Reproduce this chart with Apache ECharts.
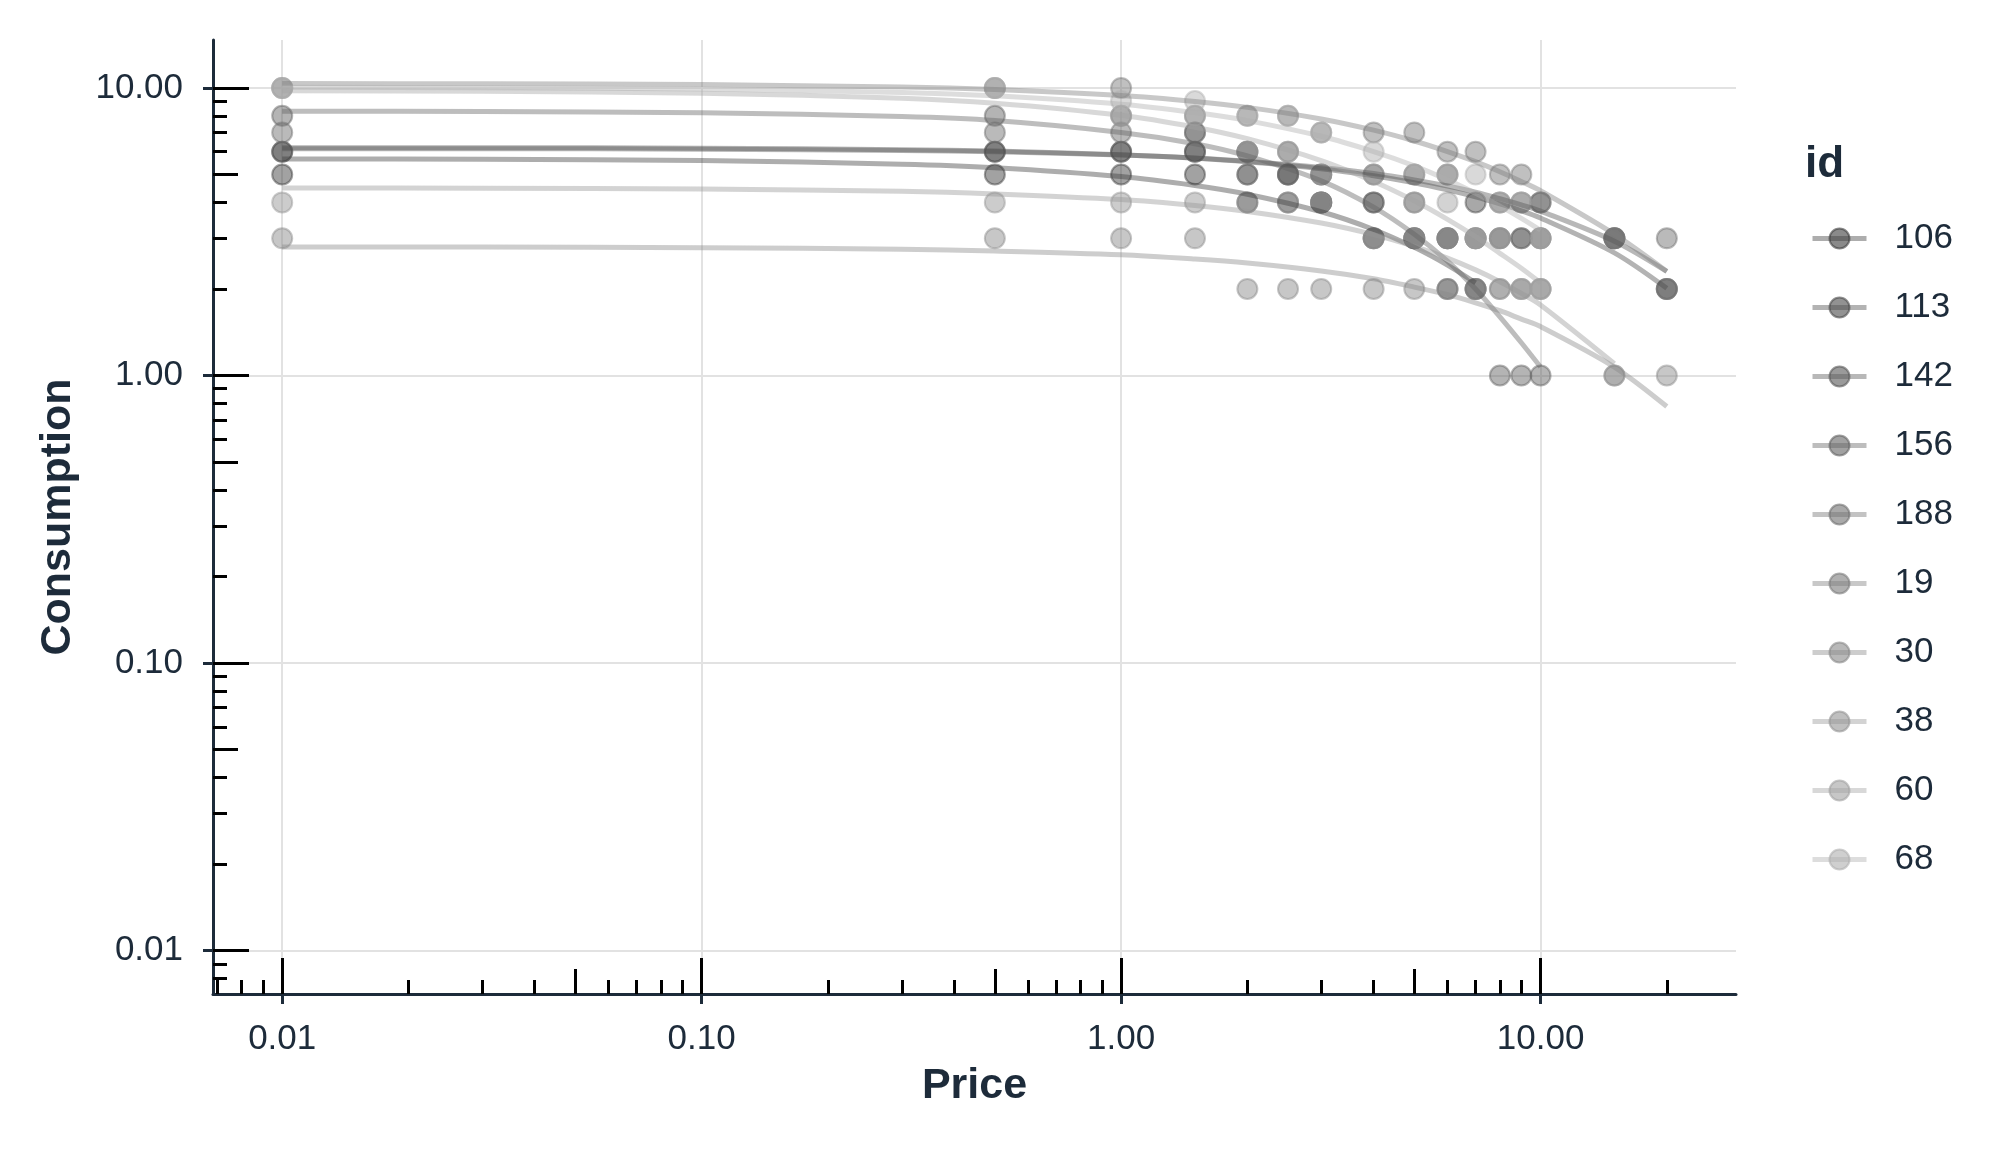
<!DOCTYPE html>
<html>
<head>
<meta charset="utf-8">
<script src="https://cdn.jsdelivr.net/npm/echarts@6/dist/echarts.min.js"></script>
<style>
html,body{margin:0;padding:0;background:#fff;}
#chart{width:2016px;height:1152px;}
</style>
</head>
<body>
<div id="chart"></div>
<script>
// ---------------- data ----------------
const ids = ['106','113','142','156','188','19','30','38','60','68'];
const prices = [0.01, 0.5, 1, 1.5, 2, 2.5, 3, 4, 5, 6, 7, 8, 9, 10, 15, 20];

// observed consumption (null = zero consumption, not drawn on the log scale)
const obs106 = [5,5,5,5,4,4,4,3,3,2,2,null,null,null,null,null];
const obs113 = [6,6,6,6,6,5,5,5,5,5,4,4,4,4,3,2];
const obs142 = [6,6,6,6,5,5,4,4,4,3,3,3,3,3,3,2];
const obs156 = [8,8,8,7,6,6,5,4,3,3,2,1,1,1,null,null];
const obs188 = [7,7,7,7,5,5,4,3,3,3,3,3,3,3,3,3];
const obs19  = [10,10,10,8,8,8,7,7,7,6,6,5,5,4,3,2];
const obs30  = [3,3,3,3,2,2,2,2,2,2,2,2,2,2,1,1];
const obs38  = [4,4,4,4,4,4,4,3,3,3,3,2,2,2,1,null];
const obs60  = [10,10,8,8,6,6,5,5,4,4,3,3,2,2,null,null];
const obs68  = [10,10,9,9,8,8,7,6,5,5,5,4,4,3,null,null];

// fitted demand curves at these prices
const curvePrices = [0.01, 0.03, 0.1, 0.3, 0.5, 1, 1.5, 2, 3, 4, 5, 6, 7, 8, 9, 10, 15, 20];
const fit106 = [5.66,5.65,5.59,5.43,5.28,4.92,4.58,4.27,3.71,3.22,2.79,2.42,2.10,null,null,null,null,null];
const fit113 = [6.2,6.2,6.17,6.10,6.03,5.86,5.70,5.54,5.24,4.95,4.68,4.42,4.18,3.95,3.74,3.53,2.67,2.01];
const fit142 = [6.15,6.15,6.12,6.06,6.00,5.85,5.71,5.56,5.29,5.04,4.79,4.56,4.34,4.12,3.92,3.73,2.93,2.30];
const fit156 = [8.30,8.28,8.20,7.95,7.70,7.00,6.40,5.80,4.75,3.85,3.10,2.50,2.00,1.60,1.30,1.07,null,null];
const fit188 = [];
const fit19  = [10.36,10.34,10.27,10.07,9.87,9.41,8.97,8.56,7.80,7.13,6.54,6.01,5.54,5.11,4.73,4.39,3.10,2.30];
const fit30  = [2.80,2.80,2.78,2.75,2.71,2.63,2.54,2.46,2.31,2.17,2.03,1.91,1.79,1.68,1.57,1.48,1.07,0.78];
const fit38  = [4.49,4.48,4.45,4.37,4.28,4.09,3.90,3.72,3.39,3.09,2.81,2.56,2.33,2.12,1.93,1.76,1.10,null];
const fit60  = [9.77,9.73,9.59,9.21,8.85,8.03,7.30,6.66,5.59,4.73,4.05,3.49,3.04,2.66,2.36,2.10,null,null];
const fit68  = [10.05,10.02,9.92,9.65,9.39,8.78,8.21,7.70,6.79,6.01,5.36,4.79,4.30,3.88,3.52,3.20,null,null];

// axis tick values
const xMajor = [0.01, 0.1, 1, 10];
const xMid = [0.05, 0.5, 5];
const xMinor = [0.007,0.008,0.009,0.02,0.03,0.04,0.06,0.07,0.08,0.09,0.2,0.3,0.4,0.6,0.7,0.8,0.9,2,3,4,6,7,8,9,20];
const yMajor = [0.01, 0.1, 1, 10];
const yMid = [0.05, 0.5, 5];
const yMinor = [0.008,0.009,0.02,0.03,0.04,0.06,0.07,0.08,0.09,0.2,0.3,0.4,0.6,0.7,0.8,0.9,2,3,4,6,7,8,9];

const obsById = {'106':obs106,'113':obs113,'142':obs142,'156':obs156,'188':obs188,'19':obs19,'30':obs30,'38':obs38,'60':obs60,'68':obs68};
const fitById = {'106':fit106,'113':fit113,'142':fit142,'156':fit156,'188':fit188,'19':fit19,'30':fit30,'38':fit38,'60':fit60,'68':fit68};

// ---------------- style ----------------
const XMIN = 0.006839, XMAX = 29.24, YMIN = 0.007066, YMAX = 14.68;
const TXT = '#1d2b3a';
const FONT = 'Liberation Sans';
function grey(i){ return Math.round(60 + i*(175-60)/9); }
function rgba(g,a){ return 'rgba('+g+','+g+','+g+','+a+')'; }

const series = [];
ids.forEach((id, i) => {
  const g = grey(i);
  const fit = fitById[id];
  const lineData = [];
  fit.forEach((v, k) => { if (v != null) lineData.push([curvePrices[k], v]); });
  series.push({
    name: id, type: 'line', data: lineData, z: 3,
    smooth: 0.3, showSymbol: false, symbol: 'circle',
    lineStyle: {color: rgba(g,0.42), width: 5},
    itemStyle: {color: rgba(g,0.6), borderColor: rgba(g,0.6), borderWidth: 2},
    silent: true
  });
});
ids.forEach((id, i) => {
  const g = grey(i);
  const obs = obsById[id];
  const pts = [];
  obs.forEach((v, k) => { if (v != null) pts.push([prices[k], v]); });
  series.push({
    name: id, type: 'scatter', data: pts, z: 2,
    symbol: 'circle', symbolSize: 20,
    itemStyle: {color: rgba(g,0.6), borderColor: rgba(g,0.6), borderWidth: 2},
    silent: true
  });
});

function logTickAxis(dim, values, len){
  return {
    type: 'log', min: dim==='x'?XMIN:YMIN, max: dim==='x'?XMAX:YMAX,
    position: dim==='x'?'bottom':'left',
    axisLine: {show: false, onZero: false},
    axisTick: {show: true, inside: true, length: len, customValues: values, lineStyle: {color: '#000', width: 3}},
    axisLabel: {show: false},
    splitLine: {show: false}, minorTick: {show: false}, minorSplitLine: {show: false}
  };
}

const option = {
  animation: false,
  backgroundColor: '#ffffff',
  grid: {left: 213, right: 280, top: 40, bottom: 158, containLabel: false},
  title: {text: 'id', left: 1800, top: 138, textStyle: {fontFamily: FONT, fontSize: 44, fontWeight: 'bold', color: TXT}},
  legend: {
    data: ids, orient: 'vertical', left: 1805, top: 216,
    itemWidth: 54, itemHeight: 25, itemGap: 34,
    lineStyle: {width: 5},
    textStyle: {fontFamily: FONT, fontSize: 35, color: TXT, padding: [0,0,0,23]},
    selectedMode: false
  },
  xAxis: [
    {
      type: 'log', min: XMIN, max: XMAX, position: 'bottom',
      name: 'Price', nameLocation: 'middle', nameGap: 71,
      nameTextStyle: {fontFamily: FONT, fontSize: 43, fontWeight: 'bold', color: TXT},
      axisLine: {show: true, onZero: false, lineStyle: {color: TXT, width: 3}},
      axisTick: {show: true, inside: false, length: 10, customValues: xMajor, lineStyle: {color: TXT, width: 3}},
      axisLabel: {customValues: xMajor, margin: 28, fontFamily: FONT, fontSize: 35, color: TXT,
                  formatter: v => Number(v).toFixed(2)},
      splitLine: {show: true, lineStyle: {color: '#e2e2e2', width: 2}},
      minorTick: {show: false}, minorSplitLine: {show: false}
    },
    logTickAxis('x', xMajor, 36),
    logTickAxis('x', xMid, 25),
    logTickAxis('x', xMinor, 14)
  ],
  yAxis: [
    {
      type: 'log', min: YMIN, max: YMAX, position: 'left',
      name: 'Consumption', nameLocation: 'middle', nameGap: 133,
      nameTextStyle: {fontFamily: FONT, fontSize: 43, fontWeight: 'bold', color: TXT},
      axisLine: {show: true, onZero: false, lineStyle: {color: TXT, width: 3}},
      axisTick: {show: true, inside: false, length: 10, customValues: yMajor, lineStyle: {color: TXT, width: 3}},
      axisLabel: {customValues: yMajor, margin: 30, fontFamily: FONT, fontSize: 35, color: TXT,
                  formatter: v => Number(v).toFixed(2)},
      splitLine: {show: true, lineStyle: {color: '#e2e2e2', width: 2}},
      minorTick: {show: false}, minorSplitLine: {show: false}
    },
    logTickAxis('y', yMajor, 36),
    logTickAxis('y', yMid, 25),
    logTickAxis('y', yMinor, 14)
  ],
  series: series
};

const chart = echarts.init(document.getElementById('chart'), null, {renderer: 'canvas', width: 2016, height: 1152});
chart.setOption(option);
</script>
</body>
</html>
